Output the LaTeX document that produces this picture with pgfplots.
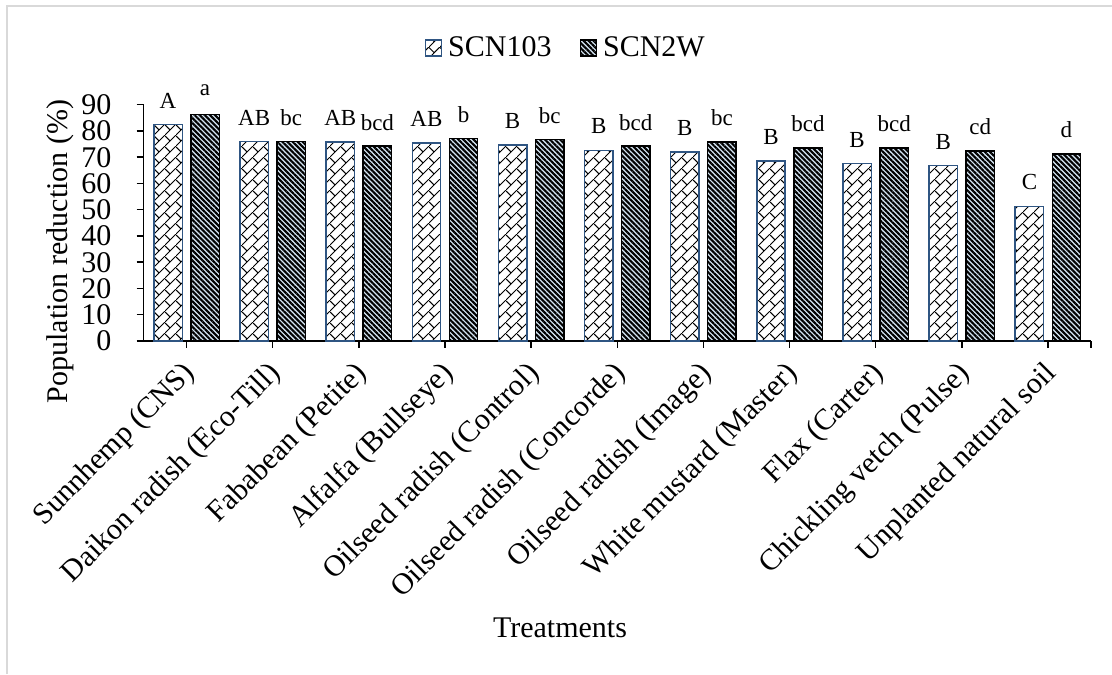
\documentclass[border=0pt]{standalone}
\usepackage{fontspec}
\setmainfont{Liberation Serif}
\usepackage{pgfplots}
\pgfplotsset{compat=1.18}
\usetikzlibrary{patterns.meta}
\definecolor{scnblue}{RGB}{47,85,130}
\definecolor{stripebg}{RGB}{214,230,244}
\definecolor{framegray}{RGB}{217,217,217}
\tikzdeclarepattern{
  name=diagbrick,
  type=uncolored,
  bounding box={(0pt,0pt) and (5.5pt,5.5pt)},
  tile size={(5.5pt,5.5pt)},
  code={
    \draw[line width=0.5pt] (-0.5pt,-0.5pt) -- (6pt,6pt);
    \draw[line width=0.5pt] (2.75pt,2.75pt) -- (0pt,5.5pt);
  }
}
\newcommand{\bigf}{\fontsize{15}{18}\selectfont}
\newcommand{\smallf}{\fontsize{11.5}{13}\selectfont}
\pgfplotsset{boxlegend/.style={legend image code/.code={\draw[##1] (0pt,-4pt) rectangle (8pt,4pt);}}}
\begin{document}
\begin{tikzpicture}
\path[use as bounding box] (0pt,0pt) rectangle (556pt,337pt);
\draw[framegray, line width=1pt] (3.5pt,0pt) -- (3.5pt,333.75pt) -- (556pt,333.75pt);
\begin{axis}[
  at={(71.75pt,166.5pt)}, anchor=south west,
  width=473.75pt, height=118.15pt, scale only axis,
  xmin=-0.5, xmax=10.5, ymin=0, ymax=90,
  ytick={0,10,...,90},
  xtick={0,...,10},
  xticklabels={Sunnhemp (CNS),Daikon radish (Eco-Till),Fababean (Petite),Alfalfa (Bullseye),Oilseed radish (Control),Oilseed radish (Concorde),Oilseed radish (Image),White mustard (Master),Flax (Carter),Chickling vetch (Pulse),Unplanted natural soil},
  extra x ticks={10.5}, extra x tick labels={},
  ybar, bar width=0.33,
  axis x line*=bottom, axis y line*=left,
  axis line style={line width=0.75pt, black},
  tick align=outside, major tick length=3.5pt,
  tick style={line width=0.75pt, black},
  /pgf/number format/assume math mode=true,
  yticklabel style={font=\bigf, xshift=-9pt},
  xticklabel style={font=\bigf, xshift=4.5pt, yshift=-8.25pt, rotate=45, anchor=east},
  ylabel={Population reduction (\%)},
  ylabel style={at={(rel axis cs:-0.0881,0.379)}, anchor=center, font=\bigf},
  xlabel={Treatments},
  xlabel style={at={(rel axis cs:0.4396,-1.2146)}, anchor=center, font=\bigf},
  legend style={at={(rel axis cs:0.4467,1.24)}, anchor=center, draw=none, fill=none,
    legend columns=2, font=\bigf,
    /tikz/every odd column/.append style={column sep=1pt},
    /tikz/every even column/.append style={column sep=12pt}},
  clip=false,
]
\addplot[bar shift=-0.215, draw=scnblue, line width=0.75pt,
  preaction={fill=white}, pattern=diagbrick, pattern color=black,
  boxlegend,
  nodes near coords, point meta=explicit symbolic,
  every node near coord/.append style={font=\smallf, anchor=center, yshift=12pt, text=black}]
  coordinates {(0,82.4)[A] (1,76.0)[AB] (2,75.8)[AB] (3,75.5)[AB] (4,74.6)[B] (5,72.6)[B] (6,72.0)[B] (7,68.6)[B] (8,67.6)[B] (9,66.8)[B] (10,51.3)[C]};
\addlegendentry{SCN103}
\addplot[bar shift=0.215, draw=black, line width=0.75pt,
  preaction={fill=stripebg}, pattern={Lines[angle=-45, distance=1.8pt, line width=1.05pt]}, pattern color=black,
  boxlegend,
  nodes near coords, point meta=explicit symbolic,
  every node near coord/.append style={font=\smallf, anchor=center, yshift=12pt, text=black}]
  coordinates {(0,86.3)[a] (1,75.9)[bc] (2,74.2)[bcd] (3,77.1)[b] (4,76.8)[bc] (5,74.2)[bcd] (6,75.8)[bc] (7,73.5)[bcd] (8,73.5)[bcd] (9,72.4)[cd] (10,71.3)[d]};
\addlegendentry{SCN2W}
\end{axis}
\end{tikzpicture}
\end{document}
